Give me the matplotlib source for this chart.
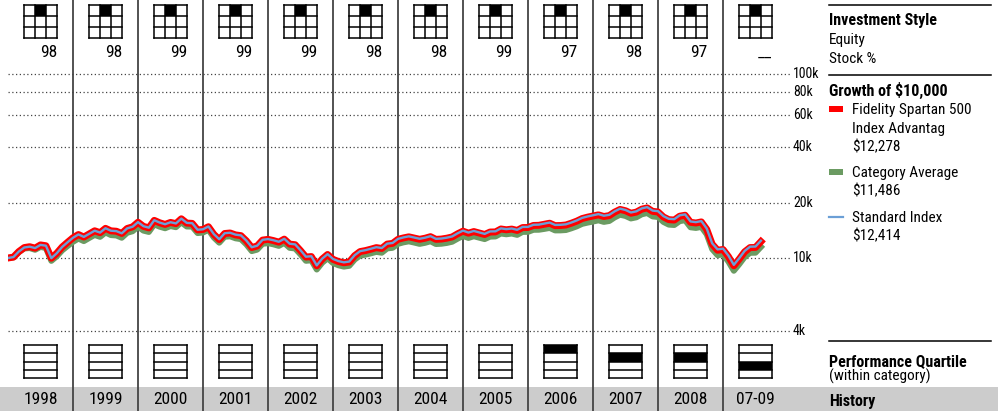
import matplotlib.pyplot as plt
import numpy as np
from matplotlib import font_manager
from matplotlib.patches import Rectangle

# narrow face if we have one
installed = {f.name for f in font_manager.fontManager.ttflist}
for fam in ["Liberation Sans Narrow", "Roboto Condensed", "DejaVu Sans"]:
    if fam in installed:
        plt.rcParams["font.family"] = fam
        break

years = ["1998", "1999", "2000", "2001", "2002", "2003", "2004", "2005",
         "2006", "2007", "2008", "07-09"]
stock_pct = [98, 98, 99, 99, 99, 98, 98, 99, 97, 98, 97, None]
style_row = [0] * 12   # large
style_col = [1] * 12   # blend
quartile = [None] * 8 + [1, 2, 2, 3]

# growth of $10,000, month ends Dec 1997 .. Jul 2009
index_vals = [10000,
    10116, 10844, 11402, 11522, 11321, 11784, 11664, 9978, 10616, 11484, 12181, 12886,
    13434, 13019, 13543, 14077, 13745, 14514, 14068, 14000, 13620, 14492, 14789, 15670,
    14893, 14614, 16051, 15579, 15259, 15647, 15413, 16373, 15519, 15463, 14246, 14325,
    14842, 13492, 12643, 13634, 13722, 13399, 13273, 12440, 11439, 11663, 12558, 12671,
    12492, 12250, 12719, 11954, 11862, 11019, 10163, 10227, 9114, 9916, 10497, 9880,
    9622, 9472, 9565, 10355, 10897, 11036, 11232, 11449, 11328, 11968, 12070, 12701,
    12939, 13116, 12920, 12722, 12893, 13144, 12712, 12758, 12897, 13096, 13621, 14084,
    13748, 14027, 13779, 13521, 13945, 13963, 14487, 14344, 14464, 14228, 14749, 14757,
    15155, 15183, 15374, 15583, 15123, 15146, 15245, 15590, 15996, 16523, 16819, 17058,
    17322, 16968, 17161, 17931, 18540, 18236, 17677, 17930, 18599, 18901, 18094, 17966,
    16890, 16327, 16252, 17050, 17256, 15795, 15661, 15875, 14454, 12022, 11138, 11243,
    10295, 9176, 9974, 10926, 11522, 11541, 12414]

fund_vals = [10000,
    10111, 10839, 11396, 11516, 11315, 11778, 11658, 9973, 10611, 11478, 12175, 12880,
    13414, 12999, 13523, 14056, 13724, 14492, 14047, 13979, 13600, 14470, 14767, 15646,
    14856, 14577, 16011, 15540, 15221, 15608, 15374, 16332, 15480, 15424, 14210, 14289,
    14790, 13445, 12599, 13586, 13674, 13352, 13227, 12396, 11399, 11622, 12514, 12627,
    12436, 12195, 12662, 11900, 11809, 10969, 10117, 10181, 9073, 9871, 10450, 9836,
    9569, 9420, 9512, 10298, 10837, 10975, 11170, 11386, 11266, 11902, 12004, 12631,
    12855, 13031, 12836, 12639, 12809, 13059, 12629, 12675, 12813, 13011, 13532, 13992,
    13645, 13922, 13676, 13420, 13840, 13858, 14378, 14236, 14356, 14121, 14638, 14646,
    15026, 15054, 15243, 15451, 14994, 15017, 15115, 15457, 15860, 16383, 16676, 16913,
    17157, 16807, 16998, 17761, 18364, 18063, 17509, 17760, 18422, 18721, 17922, 17795,
    16713, 16156, 16081, 16871, 17075, 15629, 15497, 15708, 14302, 11896, 11021, 11125,
    10182, 9075, 9864, 10806, 11395, 11414, 12278]

category_vals = [10000,
    10076, 10757, 11265, 11326, 11083, 11489, 11326, 9649, 10213, 11002, 11621, 12242,
    12749, 12355, 12852, 13345, 13030, 13759, 13322, 13258, 12885, 13709, 13976, 14808,
    14089, 13854, 15232, 14800, 14511, 14912, 14704, 15636, 14836, 14814, 13662, 13752,
    14233, 12925, 12112, 13048, 13118, 12796, 12662, 11855, 10901, 11103, 11943, 12037,
    11867, 11638, 12083, 11356, 11269, 10468, 9655, 9716, 8658, 9420, 9972, 9386,
    9131, 8979, 9068, 9806, 10309, 10429, 10603, 10796, 10682, 11274, 11358, 11939,
    12163, 12316, 12132, 11933, 12094, 12329, 11911, 11954, 12072, 12258, 12736, 13169,
    12854, 13129, 12897, 12669, 13066, 13097, 13589, 13455, 13582, 13360, 13864, 13872,
    14231, 14242, 14390, 14570, 14125, 14131, 14193, 14499, 14860, 15333, 15574, 15779,
    16023, 15712, 15891, 16622, 17187, 16923, 16404, 16639, 17278, 17559, 16827, 16708,
    15708, 15184, 15114, 15857, 16048, 14689, 14565, 14764, 13442, 11180, 10358, 10456,
    9564, 8525, 9256, 10128, 10669, 10687, 11486]

grid_vals = [4000, 10000, 20000, 40000, 60000, 80000, 100000]
grid_labels = ["4k", "10k", "20k", "40k", "60k", "80k", "100k"]

fund_name = ["Fidelity Spartan 500", "Index Advantag"]
red, green, blue = "#ff0000", "#6b9b62", "#6b9fd6"

W, H = 998, 411


def px_rect(x0, y0, x1, y1):
    return [x0 / W, 1 - y1 / H, (x1 - x0) / W, (y1 - y0) / H]


fig = plt.figure(figsize=(W / 100, H / 100), dpi=100)

# panel on the right + grey history band, in pixel units
ax_r = fig.add_axes([0, 0, 1, 1])
ax_r.set_xlim(0, W)
ax_r.set_ylim(H, 0)
ax_r.axis("off")
ax_r.set_zorder(-1)
ax_r.add_patch(Rectangle((0, 387), W, H - 387, color="#cccccc", lw=0))

# year columns
ax = fig.add_axes(px_rect(8, 0, 788, H))
ax.set_xlim(1998, 2010)
ax.set_ylim(H, 0)
ax.axis("off")
n = len(years)
ax.vlines(np.arange(1999, 1998 + n), 0, H, color="#444444", lw=1.3)

cw = 34 / 65
for i in range(n):
    x0 = 1998 + i + 0.5 - cw / 2
    # style box
    r, c = style_row[i], style_col[i]
    ax.add_patch(Rectangle((x0 + c * cw / 3, 5 + r * 11), cw / 3, 11,
                           color="black", lw=0))
    for k in range(4):
        ax.plot([x0, x0 + cw], [5 + k * 11] * 2, color="black", lw=1.1,
                solid_capstyle="projecting")
        ax.plot([x0 + k * cw / 3] * 2, [5, 38], color="black", lw=1.1,
                solid_capstyle="projecting")
    label = "__" if stock_pct[i] is None else str(stock_pct[i])
    ax.text(x0 + cw, 57, label, ha="right", va="baseline", fontsize=12.5)

    # quartile box
    q = quartile[i]
    if q is not None:
        ax.add_patch(Rectangle((x0, 345 + (q - 1) * 8.25), cw, 8.25,
                               color="black", lw=0))
    for k in range(5):
        ax.plot([x0, x0 + cw], [345 + k * 8.25] * 2, color="black", lw=1.1,
                solid_capstyle="projecting")
    for xx in (x0, x0 + cw):
        ax.plot([xx, xx], [345, 378], color="black", lw=1.1,
                solid_capstyle="projecting")

    ax.text(1998 + i + 0.5, 399, years[i], ha="center", va="center",
            fontsize=12.5)

# growth chart, log scale
top_px, bot_px, ten_px, decade = 60, 340, 258, 184
ax_g = fig.add_axes(px_rect(8, top_px, 788, bot_px))
ax_g.set_yscale("log")
ax_g.set_xlim(1998, 2010)
ax_g.set_ylim(10 ** (4 - (bot_px - ten_px) / decade),
              10 ** (4 + (ten_px - top_px) / decade))
ax_g.axis("off")

for v, lab in zip(grid_vals, grid_labels):
    ax_g.plot([0, 1.003], [v, v], transform=ax_g.get_yaxis_transform(),
              color="#444444", lw=0.9, ls=(0, (1, 2)), clip_on=False)
    ax_g.text(1.0064, v, lab, transform=ax_g.get_yaxis_transform(),
              ha="left", va="center", fontsize=10)

x = 1998 + np.arange(len(index_vals)) / 12
ax_g.plot(x, category_vals, color=green, lw=4.3, zorder=2)
ax_g.plot(x, fund_vals, color=red, lw=5.0, zorder=3)
ax_g.plot(x, index_vals, color=blue, lw=1.7, zorder=4)

# right-hand legend/headings
for yy in (5, 75, 340.5):
    ax_r.plot([829, 991], [yy, yy], color="black", lw=1.1)

bold = dict(fontsize=11.5, fontweight="bold", va="baseline")
reg = dict(fontsize=11, va="baseline")
ax_r.text(829, 25, "Investment Style", **bold)
ax_r.text(829, 44, "Equity", **reg)
ax_r.text(829, 63, "Stock %", **reg)
ax_r.text(829, 96, "Growth of $10,000", **bold)

ax_r.add_patch(Rectangle((829, 106), 14, 5.5, color=red, lw=0))
ax_r.text(852, 114, fund_name[0], **reg)
ax_r.text(852, 133, fund_name[1], **reg)
ax_r.text(852, 151, f"${fund_vals[-1]:,}", **reg)

ax_r.add_patch(Rectangle((829, 169.5), 14, 5.5, color=green, lw=0))
ax_r.text(852, 177, "Category Average", **reg)
ax_r.text(852, 195, f"${category_vals[-1]:,}", **reg)

ax_r.plot([829, 843], [216.5, 216.5], color=blue, lw=1.6)
ax_r.text(852, 222, "Standard Index", **reg)
ax_r.text(852, 240, f"${index_vals[-1]:,}", **reg)

ax_r.text(829, 366, "Performance Quartile", **bold)
ax_r.text(829, 381, "(within category)", **reg)
ax_r.text(829, 406, "History", **bold)

fig.savefig("out.png", dpi=100)
